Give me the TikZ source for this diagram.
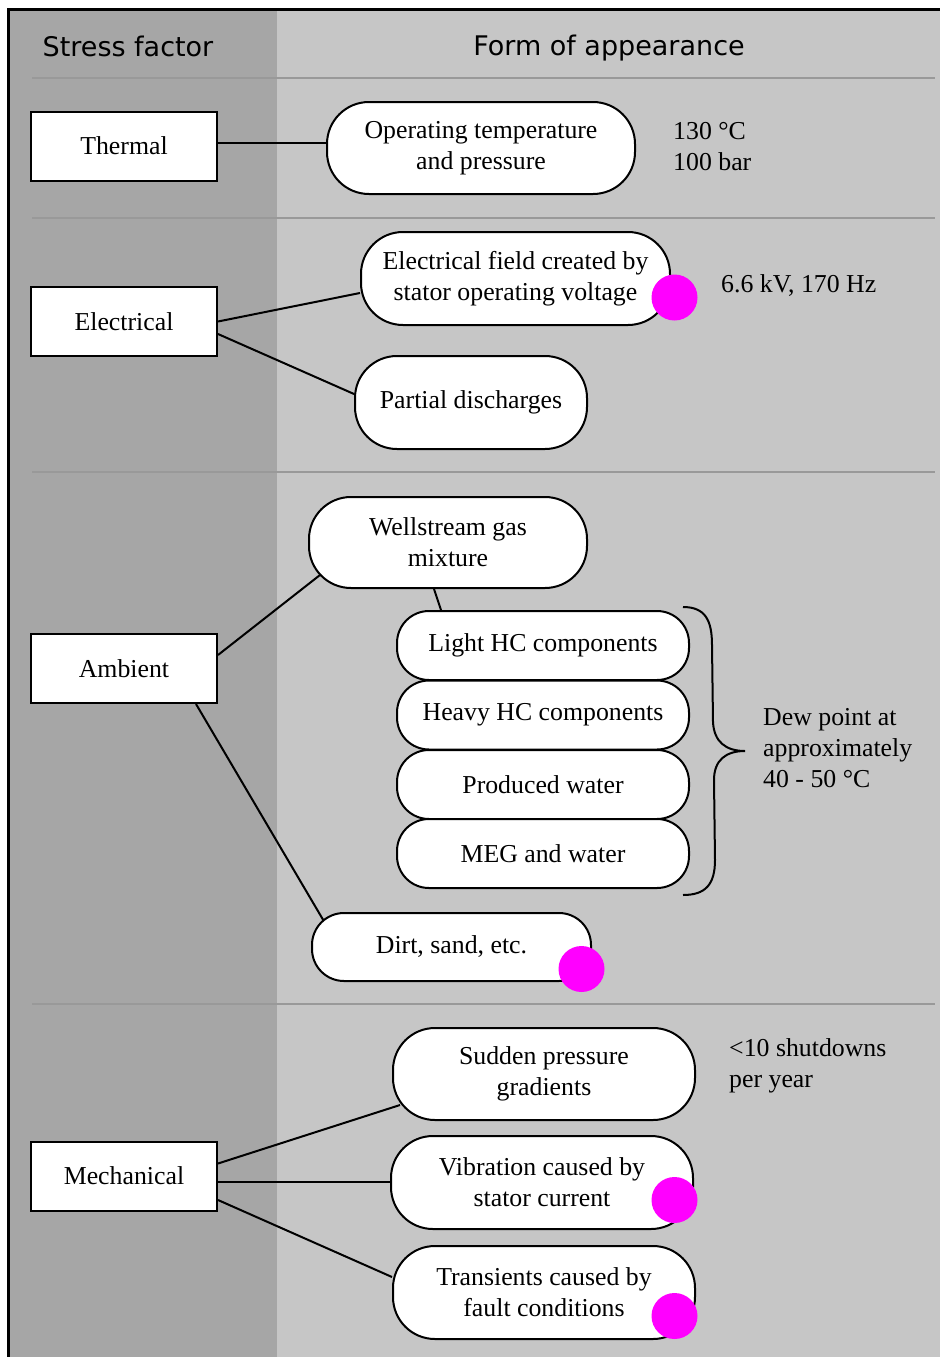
\documentclass[tikz,border=0pt]{standalone}
\usepackage{fontspec}
\setmainfont{Liberation Serif}
\newfontfamily\headfont{DejaVu Sans}
\usetikzlibrary{calc}
\pgfdeclarelayer{bg}
\pgfdeclarelayer{conn}
\pgfsetlayers{bg,conn,main}
\definecolor{darkcol}{HTML}{A6A6A6}
\definecolor{lightcol}{HTML}{C6C6C6}
\definecolor{sepcol}{HTML}{999999}
\definecolor{dotcol}{HTML}{FF00FF}
\tikzset{
  factor/.style={draw, fill=white, line width=2pt, minimum width=186pt, minimum height=69pt, inner sep=0pt, font=\fontsize{25.8}{31}\selectfont},
  form/.style={draw, fill=white, line width=2pt, rounded corners=42pt, minimum height=92pt, inner sep=0pt, align=center, font=\fontsize{25.8}{31}\selectfont},
  formsm/.style={form, rounded corners=32pt, minimum height=69pt},
  conn/.style={line width=2pt},
  sep/.style={draw=sepcol, line width=2.5pt},
  note/.style={anchor=west, align=left, inner sep=0pt, font=\fontsize{25.8}{31}\selectfont},
  head/.style={font=\headfont\fontsize{27}{32}\selectfont, inner sep=0pt},
  dot/.style={circle, fill=dotcol, minimum size=46pt, inner sep=0pt},
  bracestyle/.style={line width=2pt},
}
\begin{document}
\begin{tikzpicture}[x=1pt,y=-1pt]
\useasboundingbox (0,0) rectangle (940,1357);
\begin{pgfonlayer}{bg}
\fill[lightcol] (8,9) rectangle (940,1357);
\fill[darkcol] (8,9) rectangle (277,1357);
\draw[line width=3pt] (8,1357) -- (8,9) -- (940,9);
\foreach \y in {78,218,472,1004} \draw[sep] (32,\y) -- (935,\y);
\end{pgfonlayer}

\node[head] (h1) at (128,46) {Stress factor};
\node[head] (h2) at (609,48) {Form of appearance};

\node[factor] (thermal) at (124,146) {Thermal};
\node[factor] (elec) at (124,321.5) {Electrical};
\node[factor] (amb) at (124,668.5) {Ambient};
\node[factor] (mech) at (124,1176) {Mechanical};

\node[form, minimum width=308pt] (op) at (481,148) {Operating temperature\\and pressure};
\node[form, minimum width=309pt, minimum height=93pt] (field) at (515.5,278.5) {Electrical field created by\\stator operating voltage};
\node[form, minimum width=232pt, minimum height=93pt] (pd) at (471,402.5) {Partial discharges};
\node[form, minimum width=278pt, minimum height=91pt] (well) at (448,542.5) {Wellstream gas\\mixture};
\node[formsm, minimum width=292pt] (light) at (543,645.5) {Light HC components};
\node[formsm, minimum width=292pt] (heavy) at (543,715) {Heavy HC components};
\node[formsm, minimum width=292pt] (water) at (543,784.5) {Produced water};
\node[formsm, minimum width=292pt] (meg) at (543,853.5) {MEG and water};
\node[formsm, minimum width=279pt, minimum height=68pt] (dirt) at (451.5,947) {Dirt, sand, etc.};
\node[form, minimum width=302pt] (sudden) at (544,1074) {Sudden pressure\\gradients};
\node[form, minimum width=302pt, minimum height=93pt] (vib) at (542,1182.5) {Vibration caused by\\stator current};
\node[form, minimum width=302pt, minimum height=93pt] (trans) at (544,1292.5) {Transients caused by\\fault conditions};

\node[dot] (d1) at (674.5,297.5) {};
\node[dot] (d2) at (581.5,969) {};
\node[dot] (d3) at (674.5,1200) {};
\node[dot] (d4) at (674.5,1316) {};

\node[note] (n1) at (673,147) {130 °C\\100 bar};
\node[note] (n2) at (721,286) {6.6 kV, 170 Hz};
\node[note] (n3) at (763,748) {Dew point at\\approximately\\40 - 50 °C};
\node[note] (n4) at (729,1066) {<10 shutdowns\\per year};

\draw[bracestyle] (683,607) .. controls (705,607) and (712,620) .. (712,645) -- (713,722) .. controls (714,742) and (726,751) .. (745,751) .. controls (726,751) and (714,760) .. (714,780) -- (715,860) .. controls (715,885) and (705,895) .. (683,895);

\begin{pgfonlayer}{conn}
\draw[conn] ([yshift=3pt]thermal.east) -- ([yshift=3pt]thermal.east -| op.west);
\draw[conn] (elec.east) -- ([yshift=-14.5pt]field.west);
\draw[conn] ([yshift=-12.5pt]elec.east) -- ([yshift=8.5pt]pd.west);
\draw[conn] ([yshift=13.5pt]amb.east) -- ([shift={(12pt,14pt)}]well.south west);
\draw[conn] ([xshift=-14pt]well.south) -- ([xshift=-102pt]light.north);
\draw[conn] ([xshift=72pt]amb.south) -- ([shift={(14pt,-11pt)}]dirt.north west);
\draw[conn] ([yshift=12.5pt]mech.east) -- ([shift={(8pt,16pt)}]sudden.south west);
\draw[conn] ([yshift=-6pt]mech.east) -- ([yshift=-6pt]mech.east -| vib.west);
\draw[conn] ([yshift=-24pt]mech.east) -- ([yshift=15.5pt]trans.west);
\end{pgfonlayer}
\end{tikzpicture}
\end{document}
